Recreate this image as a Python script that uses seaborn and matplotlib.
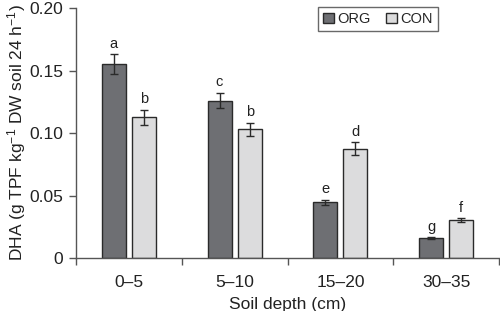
import matplotlib
matplotlib.use("Agg")
import matplotlib.pyplot as plt
import seaborn as sns
import pandas as pd
import numpy as np

depths = ["0\u20135", "5\u201310", "15\u201320", "30\u201335"]
org_vals = [0.155, 0.126, 0.0445, 0.0158]
con_vals = [0.1125, 0.103, 0.0875, 0.0302]
org_err = [0.008, 0.006, 0.002, 0.0008]
con_err = [0.006, 0.005, 0.005, 0.0015]
org_letters = ["a", "c", "e", "g"]
con_letters = ["b", "b", "d", "f"]
treatments = ["ORG", "CON"]
yticks = [0, 0.05, 0.10, 0.15, 0.20]
ytick_labels = ["0", "0.05", "0.10", "0.15", "0.20"]

sns.set_style("ticks")
plt.rcParams["font.family"] = ["Liberation Sans", "DejaVu Sans"]
plt.rcParams["mathtext.fontset"] = "custom"
plt.rcParams["mathtext.rm"] = "Liberation Sans"
plt.rcParams["mathtext.it"] = "Liberation Sans"

df = pd.DataFrame({
    "depth": depths * 2,
    "treatment": ["ORG"] * 4 + ["CON"] * 4,
    "value": org_vals + con_vals,
})

fig = plt.figure(figsize=(5.0, 3.11), dpi=100)
ax = fig.add_axes([0.152, 0.170, 0.846, 0.804])

palette = {"ORG": "#6e6f73", "CON": "#dcdcdd"}
sns.barplot(data=df, x="depth", y="value", hue="treatment", order=depths,
            hue_order=treatments, palette=palette, width=0.57, gap=0.2,
            edgecolor="#2a2a2a", linewidth=1.0, errorbar=None, ax=ax,
            saturation=1)

errs = {"ORG": org_err, "CON": con_err}
vals = {"ORG": org_vals, "CON": con_vals}
letters = {"ORG": org_letters, "CON": con_letters}
for container, t in zip(ax.containers, treatments):
    xs = [p.get_x() + p.get_width() / 2 for p in container]
    ax.errorbar(xs, vals[t], yerr=errs[t], fmt="none", ecolor="#2a2a2a",
                elinewidth=1.0, capsize=3, capthick=1.0, zorder=5)
    for x, v, e, l in zip(xs, vals[t], errs[t], letters[t]):
        ax.text(x, v + e + 0.003, l, ha="center", va="bottom", fontsize=10.5,
                color="#222222")

ax.set_ylim(0, 0.20)
ax.set_xlim(-0.5, 3.5)
ax.set_yticks(yticks)
ax.set_yticklabels(ytick_labels)
ax.set_xticks(range(len(depths)))
ax.set_xticklabels(depths)
ax.set_xticks(np.arange(-0.5, 3.6, 1.0), minor=True)
ax.tick_params(axis="x", which="major", length=0, labelsize=12.5, pad=12,
               colors="#222222")
ax.tick_params(axis="x", which="minor", length=5, width=1.0, color="#555555")
ax.tick_params(axis="y", length=5, width=1.0, labelsize=12.5, color="#555555",
               labelcolor="#222222", pad=4)

for s in ["top", "right"]:
    ax.spines[s].set_visible(False)
for s in ["left", "bottom"]:
    ax.spines[s].set_color("#555555")
    ax.spines[s].set_linewidth(1.0)

ax.set_xlabel("Soil depth (cm)", fontsize=12.5, color="#222222", labelpad=5)
ax.set_ylabel(r"DHA (g TPF kg$^{-1}$ DW soil 24 h$^{-1}$)", fontsize=12.5,
              color="#222222", labelpad=1)

leg = ax.legend(loc="upper left", bbox_to_anchor=(318 / 500, 1 - 7 / 311),
                bbox_transform=fig.transFigure, ncol=2, frameon=True,
                fancybox=False, edgecolor="#444444", fontsize=10.5,
                handlelength=0.75, handleheight=0.75, handletextpad=0.25,
                columnspacing=1.0, borderpad=0.35, borderaxespad=0)
leg.get_frame().set_linewidth(1.0)

fig.savefig("out.png", dpi=100)
